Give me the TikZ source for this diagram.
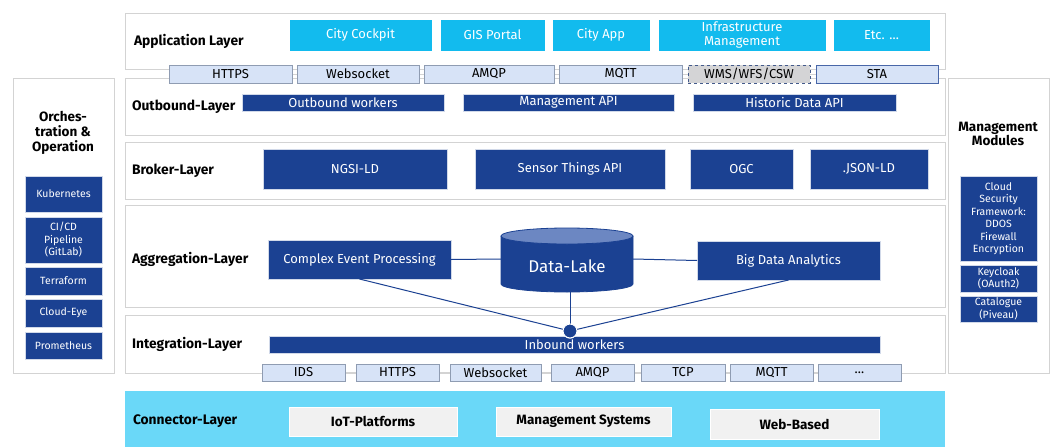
\documentclass[tikz,border=0pt]{standalone}
\usepackage{fontspec}
\setmainfont{Fira Sans}
\definecolor{dblue}{HTML}{1B4192}
\definecolor{appcyan}{HTML}{12BBEE}
\definecolor{protofill}{HTML}{D7E3F7}
\definecolor{protoline}{HTML}{8F9CB2}
\definecolor{layerline}{HTML}{D3D3D3}
\definecolor{conncyan}{HTML}{6AD8F8}
\definecolor{connbox}{HTML}{F1F1F1}
\definecolor{lakelight}{HTML}{6C87C2}
\definecolor{wmsfill}{HTML}{D4D4D6}
\newcommand\bx[7]{\node[#2, minimum width={#5-#3}, minimum height={#6-#4}] (#1) at ({(#3+#5)/2},{(#4+#6)/2}) {#7};}
\tikzset{
  every node/.style={inner sep=0pt, outer sep=0pt},
  layer/.style={draw=layerline, line width=0.8pt, fill=white},
  panel/.style={draw=layerline, line width=0.8pt, fill=white},
  appbox/.style={fill=appcyan, draw=white, line width=0.6pt, text=white, font=\fontsize{13}{14}\selectfont, align=center},
  proto/.style={fill=protofill, draw=protoline, line width=0.6pt, text=black, font=\fontsize{13}{14}\selectfont},
  darkbox/.style={fill=dblue, draw=white!80!dblue, line width=0.5pt, text=white, font=\fontsize{13}{14}\selectfont},
  sidebox/.style={fill=dblue, draw=white!80!dblue, line width=0.5pt, text=white, font=\fontsize{10.5}{12.5}\selectfont, align=center},
  lbl/.style={anchor=west, font=\fontsize{13.8}{15}\selectfont\bfseries},
  connbx/.style={fill=connbox, draw=white, line width=0.6pt, font=\fontsize{13.5}{15}\selectfont\bfseries},
  conn/.style={draw=dblue, line width=1pt},
}
\begin{document}
\begin{tikzpicture}[x=1pt,y=-1pt]
\useasboundingbox (0,0) rectangle (1060,447);
% layers
\bx{Lapp}{layer}{125}{13}{945}{69}{}
\bx{Lout}{layer}{125}{78}{945}{135}{}
\bx{Lbro}{layer}{125}{142}{945}{199}{}
\bx{Lagg}{layer}{125}{205}{945}{307}{}
\bx{Lint}{layer}{125}{315}{945}{373}{}
\bx{Lcon}{fill=conncyan}{125}{391}{945}{447}{}
\bx{Pleft}{panel}{13}{78}{114}{373}{}
\bx{Pright}{panel}{948}{78}{1049}{373}{}
% layer labels
\node[lbl] (tApp) at (134,41) {Application Layer};
\node[lbl] (tOut) at (132,107) {Outbound-Layer};
\node[lbl] (tBro) at (132,171) {Broker-Layer};
\node[lbl] (tAgg) at (132,259) {Aggregation-Layer};
\node[lbl] (tInt) at (132,344) {Integration-Layer};
\node[lbl] (tCon) at (133,421) {Connector-Layer};
% application boxes
\bx{a1}{appbox}{289}{19}{432}{51}{City Cockpit}
\bx{a2}{appbox}{440}{19}{545}{51}{GIS Portal}
\bx{a3}{appbox}{552}{19}{650}{51}{City App}
\bx{a4}{appbox}{658}{19}{826}{51}{Infrastructure\\Management}
\bx{a5}{appbox}{833}{19}{930}{51}{Etc. \dots}
% top protocols
\coordinate (tl) at (169,74);
\coordinate (tr) at (938,74);
\draw[layerline, line width=1pt] (tl) -- (tr);
\bx{p1}{proto}{169}{65}{292}{83}{HTTPS}
\bx{p2}{proto}{297}{65}{419}{83}{Websocket}
\bx{p3}{proto}{424}{65}{554}{83}{AMQP}
\bx{p4}{proto}{559}{65}{682}{83}{MQTT}
\bx{p5}{proto,fill=wmsfill,draw=dblue!60!gray,dashed,line width=0.9pt}{688}{65}{810}{83}{WMS/WFS/CSW}
\bx{p6}{proto,draw=dblue!80,line width=0.9pt}{816}{65}{938}{83}{STA}
% outbound
\bx{o1}{darkbox}{242}{94}{444}{111}{Outbound workers}
\bx{o2}{darkbox}{463}{94}{674}{111}{Management API}
\bx{o3}{darkbox}{693}{94}{896}{111}{Historic Data API}
% broker
\bx{b1}{darkbox}{263}{149}{447}{189}{NGSI-LD}
\bx{b2}{darkbox}{475}{149}{665}{189}{Sensor Things API}
\bx{b3}{darkbox}{690}{149}{793}{189}{OGC}
\bx{b4}{darkbox}{810}{149}{928}{189}{.JSON-LD}
% aggregation
\bx{cep}{darkbox}{268}{240}{451}{279}{Complex Event Processing}
\bx{bda}{darkbox}{697}{241}{880}{280}{Big Data Analytics}
\bx{dl}{}{501}{226}{633}{292}{}
\fill[dblue] (501,236) -- (501,284) arc[start angle=180, end angle=360, x radius=66pt, y radius=8pt] -- (633,236) -- cycle;
\draw[dblue, line width=0.8pt] (501,236) -- (501,284) arc[start angle=180, end angle=360, x radius=66pt, y radius=8pt] -- (633,236);
\draw[dblue, fill=lakelight, line width=0.8pt] (567,236) ellipse [x radius=66pt, y radius=8pt];
\node[text=white, font=\fontsize{17}{19}\selectfont] (dlt) at (567,266) {Data-Lake};
% integration
\bx{ib}{darkbox}{269}{336}{880}{353}{Inbound workers}
\node[circle, fill=dblue, draw=white, line width=1pt, minimum size=14pt] (dot) at (570,331) {};
\draw[conn] (cep.east) -- (dl.west);
\draw[conn] (dl.east) -- (bda.west);
\draw[conn] (cep.south) -- (dot);
\draw[conn] (bda.south) -- (dot);
\draw[conn] (dl.south -| dot) -- (dot);
\node[circle, fill=dblue, draw=white, line width=1pt, minimum size=14pt] (dot2) at (570,331) {};
% bottom protocols
\coordinate (bl) at (262,372);
\coordinate (br) at (901,372);
\draw[layerline, line width=1pt] (bl) -- (br);
\bx{q1}{proto}{262}{364}{345}{381}{IDS}
\bx{q2}{proto}{356}{364}{439}{381}{HTTPS}
\bx{q3}{proto}{450}{364}{541}{381}{Websocket}
\bx{q4}{proto}{551}{364}{634}{381}{AMQP}
\bx{q5}{proto}{641}{364}{725}{381}{TCP}
\bx{q6}{proto}{730}{364}{813}{381}{MQTT}
\bx{q7}{proto}{818}{364}{901}{381}{\dots}
% connector
\bx{c1}{connbx}{289}{407}{457}{436}{IoT-Platforms}
\bx{c2}{connbx}{496}{407}{671}{436}{Management Systems}
\bx{c3}{connbx}{710}{409}{879}{439}{Web-Based}
% left panel
\node[font=\fontsize{13.5}{15}\selectfont\bfseries, align=center] (lt) at (63,133) {Orches-\\tration \&\\Operation};
\bx{k1}{sidebox}{25}{176}{102}{212}{Kubernetes}
\bx{k2}{sidebox}{25}{217}{102}{263}{CI/CD\\Pipeline\\(GitLab)}
\bx{k3}{sidebox}{25}{267}{102}{295}{Terraform}
\bx{k4}{sidebox}{25}{299}{102}{327}{Cloud-Eye}
\bx{k5}{sidebox}{25}{332}{102}{359}{Prometheus}
% right panel
\node[font=\fontsize{13.5}{14}\selectfont\bfseries, align=center] (rt) at (998,134) {Management\\Modules};
\bx{m1}{sidebox}{960}{176}{1037}{261}{Cloud\\Security\\Framework:\\DDOS\\Firewall\\Encryption}
\bx{m2}{sidebox}{960}{265}{1037}{292}{Keycloak\\(OAuth2)}
\bx{m3}{sidebox}{960}{296}{1037}{322}{Catalogue\\(Piveau)}
\end{tikzpicture}
\end{document}
